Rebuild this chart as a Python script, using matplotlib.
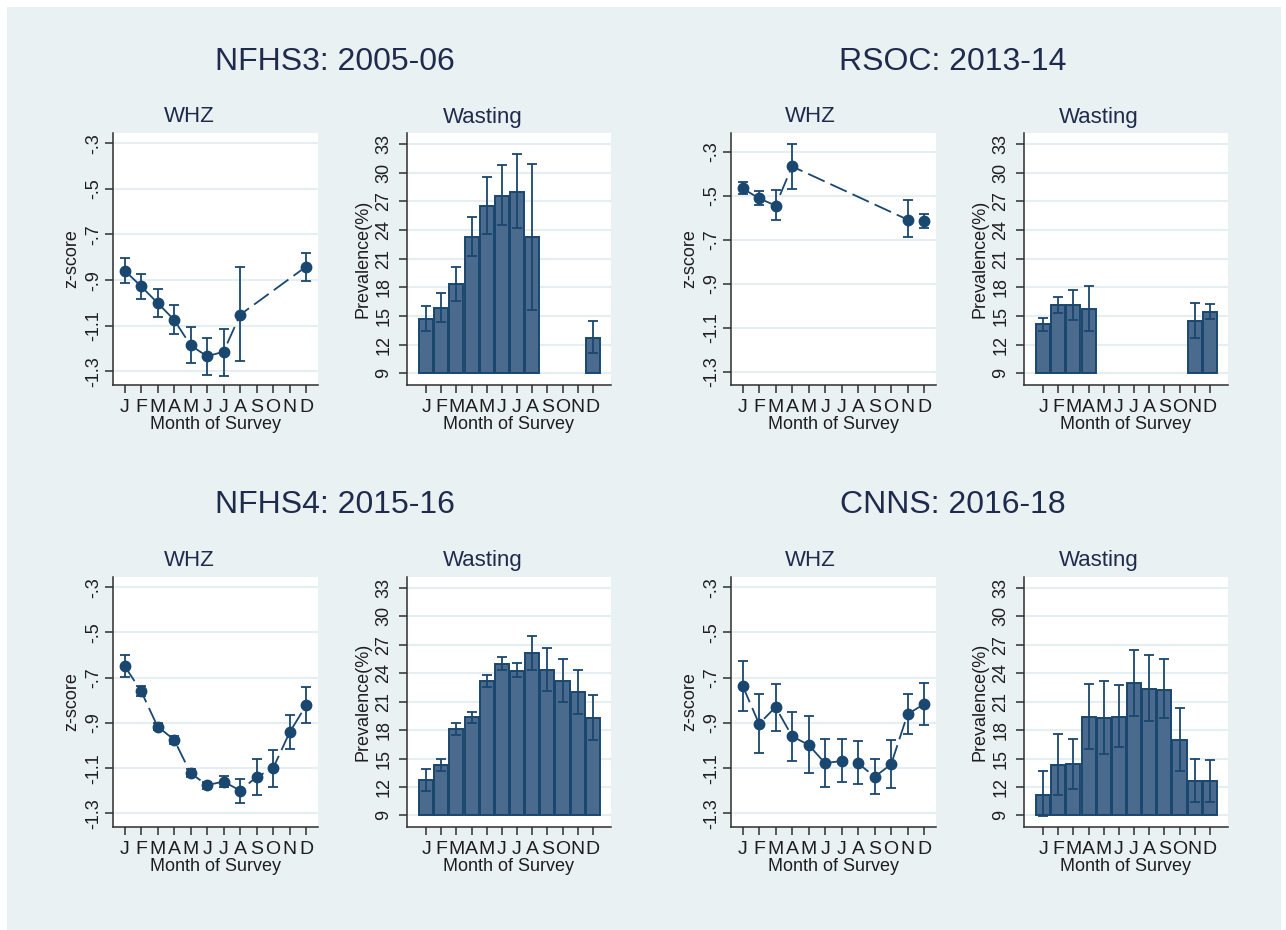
import numpy as np
import matplotlib
matplotlib.use("Agg")
import matplotlib.pyplot as plt
from matplotlib.patches import Rectangle

plt.rcParams['font.family'] = ['Liberation Sans', 'DejaVu Sans']

# Etiquetas de meses
meses = ['J', 'F', 'M', 'A', 'M', 'J', 'J', 'A', 'S', 'O', 'N', 'D']

# NFHS3: 2005-06
nfhs3_mes = [1, 2, 3, 4, 5, 6, 7, 8, 12]
nfhs3_whz = [-0.858, -0.927, -1.000, -1.074, -1.186, -1.234, -1.214, -1.052, -0.841]
nfhs3_whz_lo = [-0.912, -0.981, -1.061, -1.136, -1.265, -1.315, -1.319, -1.253, -0.906]
nfhs3_whz_hi = [-0.804, -0.872, -0.939, -1.011, -1.105, -1.153, -1.113, -0.843, -0.779]
nfhs3_wast = [14.69, 15.88, 18.36, 23.29, 26.54, 27.59, 27.97, 23.29, 12.74]
nfhs3_wast_lo = [13.40, 14.40, 16.62, 21.33, 23.57, 24.48, 24.16, 15.64, 11.10]
nfhs3_wast_hi = [16.09, 17.38, 20.18, 25.35, 29.58, 30.76, 31.92, 30.94, 14.48]

# RSOC: 2013-14
rsoc_mes = [1, 2, 3, 4, 11, 12]
rsoc_whz = [-0.466, -0.511, -0.544, -0.366, -0.608, -0.614]
rsoc_whz_lo = [-0.493, -0.543, -0.608, -0.468, -0.689, -0.645]
rsoc_whz_hi = [-0.436, -0.478, -0.472, -0.262, -0.520, -0.584]
rsoc_wast = [14.14, 16.13, 16.13, 15.71, 14.45, 15.43]
rsoc_wast_lo = [13.44, 15.36, 14.59, 13.47, 12.67, 14.66]
rsoc_wast_hi = [14.80, 17.00, 17.74, 18.15, 16.34, 16.23]

# NFHS4: 2015-16
nfhs4_mes = [1, 2, 3, 4, 5, 6, 7, 8, 9, 10, 11, 12]
nfhs4_whz = [-0.648, -0.759, -0.916, -0.974, -1.122, -1.175, -1.159, -1.199, -1.139, -1.100, -0.942, -0.822]
nfhs4_whz_lo = [-0.697, -0.781, -0.933, -0.991, -1.141, -1.193, -1.184, -1.254, -1.220, -1.183, -1.016, -0.900]
nfhs4_whz_hi = [-0.600, -0.736, -0.899, -0.959, -1.104, -1.162, -1.133, -1.146, -1.058, -1.019, -0.867, -0.742]
nfhs4_wast = [12.72, 14.32, 18.15, 19.37, 23.19, 25.00, 24.27, 26.11, 24.34, 23.16, 21.98, 19.30]
nfhs4_wast_lo = [11.54, 13.73, 17.49, 18.80, 22.57, 24.34, 23.57, 24.37, 22.15, 20.93, 19.68, 17.00]
nfhs4_wast_hi = [13.90, 14.91, 18.70, 19.96, 23.82, 25.70, 25.07, 27.89, 26.67, 25.49, 24.30, 21.70]

# CNNS: 2016-18
cnns_mes = [1, 2, 3, 4, 5, 6, 7, 8, 9, 10, 11, 12]
cnns_whz = [-0.735, -0.904, -0.830, -0.959, -0.997, -1.078, -1.068, -1.078, -1.138, -1.083, -0.861, -0.817]
cnns_whz_lo = [-0.846, -1.035, -0.935, -1.067, -1.122, -1.181, -1.162, -1.170, -1.212, -1.187, -0.948, -0.909]
cnns_whz_hi = [-0.625, -0.772, -0.728, -0.852, -0.870, -0.972, -0.971, -0.980, -1.059, -0.974, -0.774, -0.723]
cnns_wast = [11.20, 14.30, 14.41, 19.40, 19.23, 19.43, 22.95, 22.36, 22.26, 16.96, 12.67, 12.67]
cnns_wast_lo = [8.95, 11.20, 11.83, 16.00, 15.50, 16.26, 19.50, 18.94, 19.23, 13.71, 10.40, 10.40]
cnns_wast_hi = [13.71, 17.55, 17.10, 22.90, 23.21, 22.77, 26.50, 25.95, 25.47, 20.34, 15.00, 14.84]

encuestas = [
    ("NFHS3: 2005-06", nfhs3_mes, nfhs3_whz, nfhs3_whz_lo, nfhs3_whz_hi, nfhs3_wast, nfhs3_wast_lo, nfhs3_wast_hi),
    ("RSOC: 2013-14", rsoc_mes, rsoc_whz, rsoc_whz_lo, rsoc_whz_hi, rsoc_wast, rsoc_wast_lo, rsoc_wast_hi),
    ("NFHS4: 2015-16", nfhs4_mes, nfhs4_whz, nfhs4_whz_lo, nfhs4_whz_hi, nfhs4_wast, nfhs4_wast_lo, nfhs4_wast_hi),
    ("CNNS: 2016-18", cnns_mes, cnns_whz, cnns_whz_lo, cnns_whz_hi, cnns_wast, cnns_wast_lo, cnns_wast_hi),
]

W, H = 1286, 930
fondo = '#eaf1f3'
azul = '#1a476f'
relleno = '#4a6b8d'
texto = '#1f2b4d'
ejes = '#2e2e2e'

fig = plt.figure(figsize=(W / 100, H / 100), dpi=100, facecolor='white')
fig.patches.append(Rectangle((7 / W, 0), (1281 - 7) / W, (H - 7) / H,
                             transform=fig.transFigure, facecolor=fondo,
                             edgecolor='none', zorder=-10))

# posiciones en pixeles de cada bloque
col_x = [(113, 407, 335, 189, 483), (731, 1024, 953, 810, 1099)]
fila_y = [(133, 385, 62, 117), (577, 827, 505, 560)]


def px(x0, top, x1, bottom):
    return [x0 / W, 1 - bottom / H, (x1 - x0) / W, (bottom - top) / H]


def estilo(ax, ypad):
    ax.set_facecolor('white')
    for s in ['top', 'right']:
        ax.spines[s].set_visible(False)
    for s in ['left', 'bottom']:
        ax.spines[s].set_color(ejes)
        ax.spines[s].set_linewidth(1.1)
    ax.tick_params(axis='both', colors=ejes, labelcolor='#1e1e1e', length=6, width=1.1)
    ax.tick_params(axis='x', labelsize=14, pad=4)
    ax.tick_params(axis='y', labelsize=13, pad=ypad)
    for lab in ax.get_yticklabels():
        lab.set_rotation(90)
        lab.set_va('center')
    ax.grid(axis='y', color='#e6eef1', linewidth=1.5)
    ax.set_axisbelow(True)
    ax.set_xticks(range(1, 13))
    ax.set_xticklabels(meses)
    ax.set_xlabel("Month of Survey", fontsize=13, color='#1e1e1e', labelpad=0)


for i, (titulo, mes, whz, whz_lo, whz_hi, wast, wast_lo, wast_hi) in enumerate(encuestas):
    top, bottom, ty, sy = fila_y[i // 2]
    wl, bl, tx, sx1, sx2 = col_x[i % 2]

    fig.text(tx / W, 1 - ty / H, titulo, fontsize=23, color=texto, ha='center', va='center')
    fig.text(sx1 / W, 1 - sy / H, "WHZ", fontsize=16, color=texto, ha='center', va='center')
    fig.text(sx2 / W, 1 - sy / H, "Wasting", fontsize=16, color=texto, ha='center', va='center')

    # WHZ
    ax = fig.add_axes(px(wl, top, wl + 205, bottom))
    whz = np.array(whz)
    yerr = [whz - np.array(whz_lo), np.array(whz_hi) - whz]
    ax.plot(mes, whz, color=azul, linewidth=1.3, linestyle=(0, (10, 3.5)), zorder=2)
    ax.errorbar(mes, whz, yerr=yerr, fmt='o', color=azul, markersize=7.5,
                ecolor=azul, elinewidth=1.3, capsize=3.8, capthick=1.3, zorder=3)
    ax.set_yticks([-0.3, -0.5, -0.7, -0.9, -1.1, -1.3])
    ax.set_yticklabels(['-.3', '-.5', '-.7', '-.9', '-1.1', '-1.3'])
    ax.set_xlim(0.3, 12.72)
    ax.set_ylim(-1.36, -0.214 if i == 1 else -0.255)
    estilo(ax, 1.5)
    ax.set_ylabel("z-score", fontsize=13, color='#1e1e1e', labelpad=4)

    # Wasting
    ax = fig.add_axes(px(bl, top, bl + 204, bottom))
    wast = np.array(wast)
    yerr = [wast - np.array(wast_lo), np.array(wast_hi) - wast]
    ax.bar(mes, wast - 9, bottom=9, width=0.93, color=relleno, edgecolor=azul,
           linewidth=1.4, zorder=2)
    ax.errorbar(mes, wast, yerr=yerr, fmt='none', ecolor=azul, elinewidth=1.3,
                capsize=3.8, capthick=1.3, zorder=3)
    ax.set_yticks(range(9, 34, 3))
    ax.set_xlim(-0.26, 13.2)
    ax.set_ylim(7.78, 34.15)
    estilo(ax, 4.5)
    ax.set_ylabel("Prevalence(%)", fontsize=13, color='#1e1e1e', labelpad=3)

fig.savefig("out.png", dpi=100, facecolor='white')
